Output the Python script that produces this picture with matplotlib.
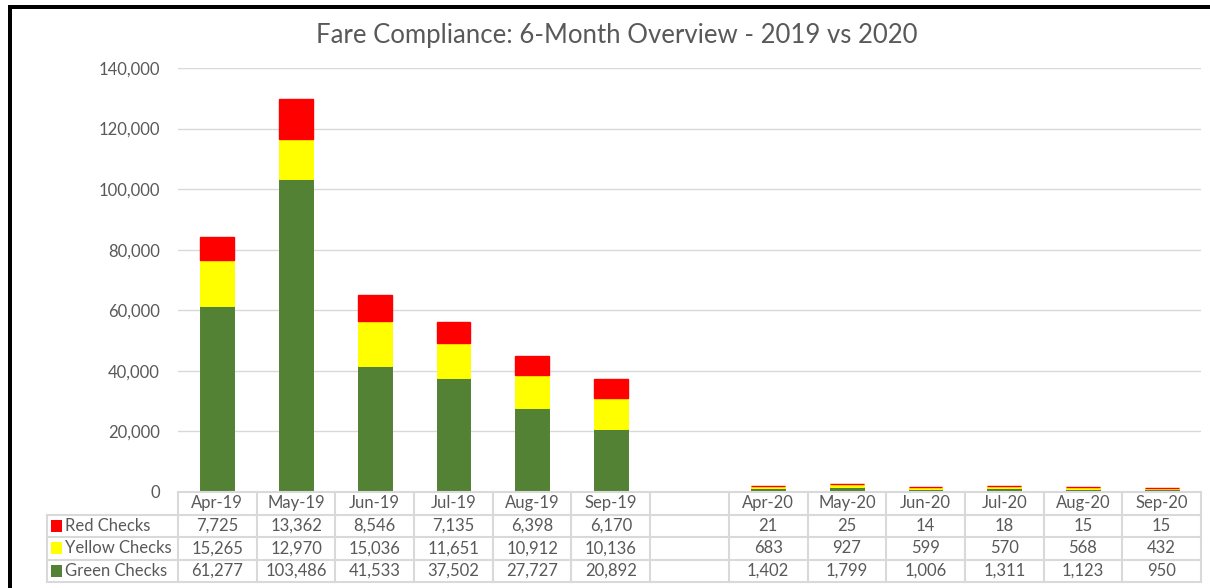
import matplotlib
matplotlib.use("Agg")
import matplotlib.pyplot as plt
from matplotlib.lines import Line2D
from matplotlib.patches import Rectangle

# ---- data ----
months = ["Apr-19", "May-19", "Jun-19", "Jul-19", "Aug-19", "Sep-19", "",
          "Apr-20", "May-20", "Jun-20", "Jul-20", "Aug-20", "Sep-20"]
red = [7725, 13362, 8546, 7135, 6398, 6170, None, 21, 25, 14, 18, 15, 15]
yellow = [15265, 12970, 15036, 11651, 10912, 10136, None, 683, 927, 599, 570, 568, 432]
green = [61277, 103486, 41533, 37502, 27727, 20892, None, 1402, 1799, 1006, 1311, 1123, 950]
series_names = ["Red Checks", "Yellow Checks", "Green Checks"]
title = "Fare Compliance: 6-Month Overview - 2019 vs 2020"
yticks = [0, 20000, 40000, 60000, 80000, 100000, 120000, 140000]

C_RED = "#FF0000"
C_YEL = "#FFFF00"
C_GRN = "#548235"
TXT = "#595959"
GRID = "#D9D9D9"

plt.rcParams['font.family'] = ['Lato', 'DejaVu Sans']

W, H = 1210, 588
fig = plt.figure(figsize=(W / 100, H / 100), dpi=100)

def px_axes(x0, y0, x1, y1):
    return fig.add_axes([x0 / W, 1 - y1 / H, (x1 - x0) / W, (y1 - y0) / H])

# main plot axes
X0, X1 = 178, 1201
ax = px_axes(X0, 68, X1, 492)
n = len(months)
ax.set_xlim(-0.5, n - 0.5)
ax.set_ylim(0, 140000)

idx = [i for i in range(n) if green[i] is not None]
g = [green[i] for i in idx]
yv = [yellow[i] for i in idx]
r = [red[i] for i in idx]
bw = 0.43
ax.bar(idx, g, width=bw, color=C_GRN, edgecolor=C_GRN, linewidth=0.7, zorder=3)
ax.bar(idx, yv, width=bw, bottom=g, color=C_YEL, edgecolor=C_YEL, linewidth=0.7, zorder=3)
ax.bar(idx, r, width=bw, bottom=[a + b for a, b in zip(g, yv)], color=C_RED,
       edgecolor=C_RED, linewidth=1.0, zorder=3)

fs = 12
ax.set_yticks(yticks)
ax.set_yticklabels([f"{v:,}" for v in yticks], color=TXT, fontsize=fs)
ax.tick_params(axis='y', length=0, pad=13)
ax.set_xticks([])
ax.yaxis.grid(True, color=GRID, linewidth=1)
ax.set_axisbelow(True)
for s in ax.spines.values():
    s.set_visible(False)

fig.text(617 / W, 1 - 36 / H, title, ha='center', va='center', fontsize=18.5, color=TXT)

# data table axes
tax = px_axes(X0, 492, X1, 582)
tax.set_xlim(-0.5, n - 0.5)
tax.set_ylim(4, 0)
tax.axis('off')
colw = (X1 - X0) / n
lab_left = -0.5 - (X0 - 47) / colw
lw = 1.5
# horizontal lines
tax.add_line(Line2D([-0.5, n - 0.5], [0, 0], color=GRID, lw=lw, clip_on=False))
for yy in [1, 2, 3, 4]:
    tax.add_line(Line2D([lab_left, n - 0.5], [yy, yy], color=GRID, lw=lw, clip_on=False))
# vertical lines
for k in range(n + 1):
    xx = -0.5 + k
    tax.add_line(Line2D([xx, xx], [0, 4], color=GRID, lw=lw, clip_on=False))
tax.add_line(Line2D([lab_left, lab_left], [1, 4], color=GRID, lw=lw, clip_on=False))

for i, m in enumerate(months):
    tax.text(i, 0.5, m, ha='center', va='center', fontsize=fs, color=TXT)
rows = [red, yellow, green]
colors = [C_RED, C_YEL, C_GRN]
for ri, (vals, nm, c) in enumerate(zip(rows, series_names, colors)):
    yc = ri + 1.5
    for i, v in enumerate(vals):
        if v is not None:
            tax.text(i, yc, f"{v:,}", ha='center', va='center', fontsize=fs, color=TXT)
    # legend key
    kx = lab_left + 4 / colw
    tax.add_patch(Rectangle((kx, yc - 0.27), 11 / colw, 0.54, facecolor=c,
                            edgecolor='none', clip_on=False))
    tax.text(kx + 14 / colw, yc, nm, ha='left', va='center', fontsize=fs, color=TXT,
             clip_on=False)

# black frame (top and left)
fig.add_artist(Rectangle((8 / W, 1 - 9 / H), (W - 8) / W, 4 / H, transform=fig.transFigure,
                         facecolor='black', edgecolor='none'))
fig.add_artist(Rectangle((8 / W, 0), 4 / W, 1 - 5 / H, transform=fig.transFigure,
                         facecolor='black', edgecolor='none'))

fig.savefig("out.png", dpi=100)
